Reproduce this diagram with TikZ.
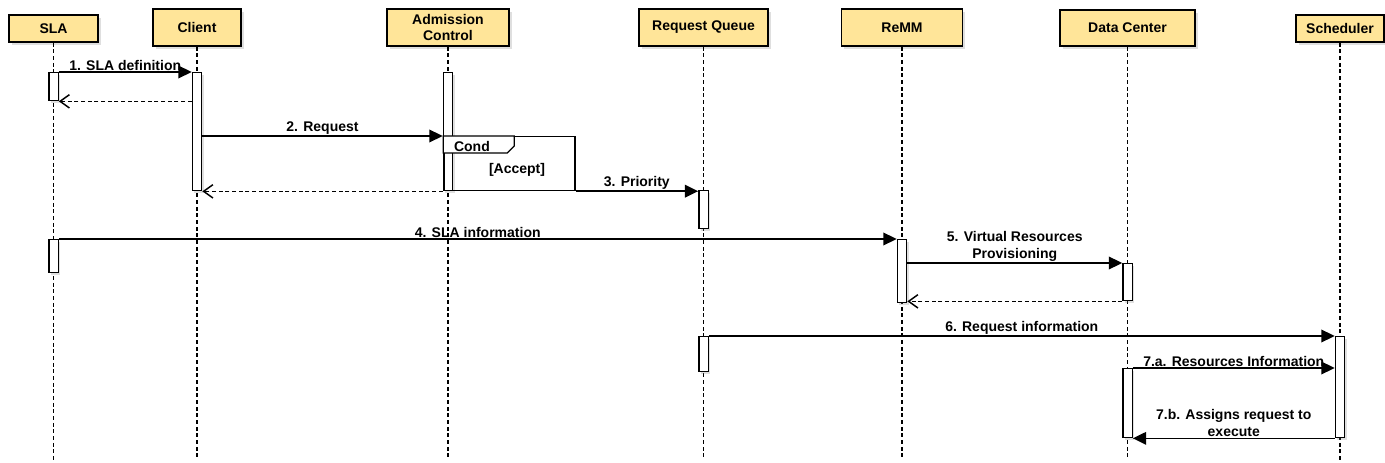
\documentclass[tikz,border=0pt]{standalone}
\usepackage{fontspec}
\setmainfont{Liberation Sans}
\usepackage{xcolor}
\usepackage{tikz}
\usetikzlibrary{arrows.meta,positioning,calc,shadows}
\definecolor{headfill}{HTML}{FFE599}

\begin{document}
\begin{tikzpicture}[x=0.75pt, y=-0.75pt,
    every node/.style={font=\bfseries\fontsize{10.5}{12.75}\selectfont},
    head/.style={draw, line width=1.2pt, fill=headfill, align=center, inner sep=0pt,
        drop shadow={shadow xshift=2pt, shadow yshift=-2pt, opacity=0.25}},
    life/.style={line width=0.9pt, dash pattern=on 3pt off 2pt},
    act/.style={draw, line width=1pt, fill=white, minimum width=7pt, inner sep=0pt, anchor=north,
        drop shadow={shadow xshift=1.5pt, shadow yshift=-1.5pt, opacity=0.25}},
    msg/.style={line width=1.1pt, -{Triangle[length=10pt,width=9.5pt]}},
    ret/.style={line width=1.1pt, dash pattern=on 3pt off 2pt, -{Straight Barb[length=7pt,width=10pt]}},
    lbl/.style={above, inner sep=0.8pt, align=center}]
\fill[white] (0,0) rectangle (1385,463);
\useasboundingbox (0,0) rectangle (1385,463);
\coordinate (bot) at (0,460);

% Participants
\foreach \x/\yy/\w/\h/\nm/\txt in {53.5/28.5/89/27/sla/SLA, 197/27.5/88/37/cli/Client,
    448/27.5/122/37/adm/{Admission\\Control}, 703.5/27.5/129/37/rq/Request Queue,
    902/27.5/121/37/remm/ReMM, 1127.5/28/135/36/dc/Data Center, 1340/28.5/88/27/sch/Scheduler} {
    \node[head, minimum width=\w*0.75pt, minimum height=\h*0.75pt] (\nm) at (\x,\yy) {\txt};
}

% Lifelines
\foreach \nm in {sla, cli, adm, rq, remm, dc, sch} {
    \draw[life] (\nm.south) -- (\nm.south |- bot);
}

% Activations
\foreach \nm/\x/\t/\h in {sla1/53.5/72/28, cli1/197/72/118, adm1/448/72/118, rq1/703.5/190/38,
    sla2/53.5/239/33, remm1/902/239/63, dc1/1127.5/263/37, rq2/703.5/336/35,
    sch1/1340/336/101, dc2/1127.5/368/69} {
    \node[act, minimum height=\h*0.75pt] (\nm) at (\x,\t) {};
}

% Cond frame
\node[draw, line width=0.9pt, minimum width=131*0.75pt, minimum height=54*0.75pt,
    anchor=north west, inner sep=0pt] (cond) at (443.3,136) {};
\draw[line width=0.9pt, fill=white] (cond.north west) -- ++(71,0) -- ++(0,10) -- ++(-7,7)
    -- ++(-64,0) -- cycle;
\node[anchor=west, inner sep=0pt] (condtxt) at ($(cond.north west)+(10.5,10)$) {Cond};
\node (accept) at (517,170) {[Accept]};

% Messages
\draw[msg] (sla1.north east) -- node[lbl] {1. SLA definition} (cli1.north west);
\draw[ret] (cli1.west |- sla1.south) -- (sla1.south east);
\draw[msg] (cli1.east |- cond.north) -- node[lbl] {2. Request} (adm1.west |- cond.north);
\draw[ret] (adm1.south west) -- (cli1.south east);
\draw[msg] (cond.south east) -- node[lbl] {3. Priority} (cond.south east -| rq1.west);
\draw[msg] (sla2.north east) -- node[lbl] {4. SLA information} (remm1.north west);
\draw[msg] (dc1.north west -| remm1.east) -- node[lbl] {5. Virtual Resources\\Provisioning} (dc1.north west);
\draw[ret] (dc1.south west) -- (dc1.south west -| remm1.east);
\draw[msg] (rq2.north east) -- node[lbl] {6. Request information} (sch1.north west);
\draw[msg] (dc2.north east) -- node[lbl] {7.a. Resources Information} (dc2.north east -| sch1.west);
\draw[msg] (sch1.south west) -- node[lbl] {7.b. Assigns request to\\execute} (dc2.south east);
\end{tikzpicture}
\end{document}
